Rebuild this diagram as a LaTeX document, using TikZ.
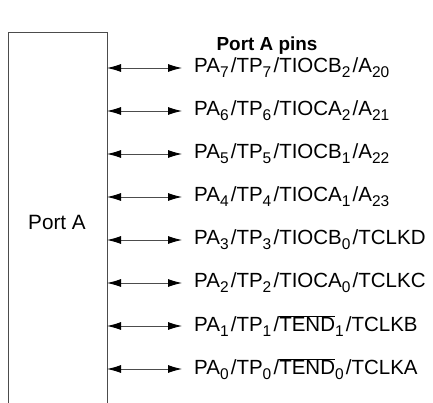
\documentclass[tikz,border=0pt]{standalone}
\usepackage{fontspec}
\setmainfont{Liberation Sans}
\usetikzlibrary{arrows.meta}
\newcommand\sbs[1]{\raisebox{-5pt}{\fontsize{15.5}{16}\selectfont #1}\kern2.2pt}
\newcommand\ovl[1]{$\overline{\mbox{#1}}$}
\begin{document}
\begin{tikzpicture}[x=1pt,y=-1pt,
  pinlabel/.style={anchor=west,inner sep=0pt,font=\fontsize{20.5}{24}\selectfont},
  portline/.style={draw=black!70,line width=0.9pt},
  pinarrow/.style={draw=black!70,line width=0.9pt,{Latex[length=14pt,width=8pt,black]}-{Latex[length=14pt,width=8pt,black]}}]
\useasboundingbox (0,0) rectangle (433,403);
\coordinate (bl) at (8,403);
\coordinate (tl) at (8,32);
\coordinate (tr) at (107,32);
\coordinate (br) at (107,403);
\draw[portline] (bl) -- (tl) -- (tr) -- (br);
\node[font=\fontsize{20.7}{24}\selectfont,inner sep=0pt] (port) at (57,222) {Port A};
\node[font=\bfseries\fontsize{18.9}{22}\selectfont,inner sep=0pt] (title) at (267,46) {Port A pins};
\foreach \i/\txt in {
 0/{PA\sbs{7}/TP\sbs{7}/TIOCB\sbs{2}/A\sbs{20}},
 1/{PA\sbs{6}/TP\sbs{6}/TIOCA\sbs{2}/A\sbs{21}},
 2/{PA\sbs{5}/TP\sbs{5}/TIOCB\sbs{1}/A\sbs{22}},
 3/{PA\sbs{4}/TP\sbs{4}/TIOCA\sbs{1}/A\sbs{23}},
 4/{PA\sbs{3}/TP\sbs{3}/TIOCB\sbs{0}/TCLKD},
 5/{PA\sbs{2}/TP\sbs{2}/TIOCA\sbs{0}/TCLKC},
 6/{PA\sbs{1}/TP\sbs{1}/\ovl{TEND}\sbs{1}/TCLKB},
 7/{PA\sbs{0}/TP\sbs{0}/\ovl{TEND}\sbs{0}/TCLKA}} {
  \coordinate (s\i) at (107,68+43*\i);
  \node[pinlabel] (p\i) at (194,68+43*\i) {\txt};
  \coordinate (e\i) at (182,68+43*\i);
  \draw[pinarrow] (s\i) -- (e\i);
}
\end{tikzpicture}
\end{document}
